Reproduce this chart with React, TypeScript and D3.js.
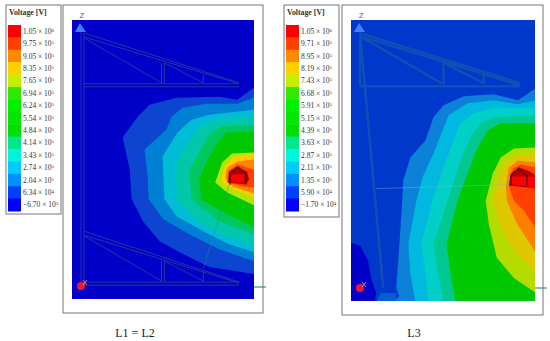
import React from 'react';
import * as d3 from 'd3';

type Pt = [number, number];

// legend values, top to bottom
const LEGEND_COLORS = ['#ff0000', '#ff4000', '#ff8a00', '#ffd000', '#c4f000', '#30e800', '#00f000', '#00e800', '#00e000', '#00e88c', '#00f5dc', '#00ccff', '#0090ff', '#0040ff', '#0000ff'];
const LEFT_MANTISSA = ['1.05', '9.75', '9.05', '8.35', '7.65', '6.94', '6.24', '5.54', '4.84', '4.14', '3.43', '2.74', '2.04', '6.34', '−6.70'];
const LEFT_EXP = ['6', '5', '5', '5', '5', '5', '5', '5', '5', '5', '5', '5', '5', '4', '3'];
const RIGHT_MANTISSA = ['1.05', '9.71', '8.95', '8.19', '7.43', '6.68', '5.91', '5.15', '4.39', '3.63', '2.87', '2.11', '1.35', '5.90', '−1.70'];
const RIGHT_EXP = ['6', '5', '5', '5', '5', '5', '5', '5', '5', '5', '5', '5', '5', '4', '4'];

// contour regions, outermost first (panel units: width 183, height 280)
const LEFT_BANDS: [string, Pt[]][] = [
  ['#0a45d0', [[183, 68], [166, 80], [148, 77], [105, 78], [78, 85], [66, 97], [51, 118], [58, 150], [60, 180], [72, 203], [88, 222], [112, 235], [138, 248], [183, 255]]],
  ['#0080d4', [[183, 78], [166, 84], [135, 84], [111, 88], [100, 97], [95, 110], [73, 130], [76, 157], [77, 180], [92, 200], [118, 215], [148, 230], [183, 242]]],
  ['#00bcd4', [[183, 90], [138, 95], [120, 100], [106, 113], [91, 137], [93, 180], [105, 197], [132, 212], [158, 225], [183, 233]]],
  ['#00c8a8', [[183, 97], [145, 100], [128, 108], [115, 127], [105, 143], [105, 180], [128, 203], [155, 217], [183, 225]]],
  ['#00c860', [[183, 105], [151, 107], [138, 115], [128, 133], [118, 150], [120, 180], [148, 202], [183, 215]]],
  ['#00c800', [[183, 112], [155, 113], [145, 125], [135, 143], [128, 160], [130, 180], [152, 193], [183, 208]]],
  ['#b4e400', [[183, 133], [161, 134], [151, 143], [144, 163], [156, 173], [183, 186]]],
  ['#ffcc00', [[183, 134], [163, 137], [153, 148], [150, 162], [163, 170], [183, 178]]],
  ['#ff8400', [[183, 140], [166, 142], [156, 148], [154, 158], [161, 167], [183, 174]]],
  ['#ff4000', [[183, 150], [166, 145], [157, 152], [156, 163], [173, 167], [183, 168]]],
  ['#b80000', [[166, 147], [158, 152], [157, 163], [175, 165], [178, 160], [176, 152]]],
  ['#ff0000', [[160, 155], [173, 155], [173, 163], [160, 163]]],
];

const RIGHT_BANDS: [string, Pt[]][] = [
  ['#0000c8', [[0, 222], [9, 225], [17, 240], [20, 257], [25, 272], [24, 281], [0, 281]]],
  ['#0060d0', [[25, 281], [30, 272], [44, 272], [47, 281]]],
  ['#0a80d8', [[184, 68], [166, 80], [142, 74], [112, 76], [92, 85], [82, 97], [74, 120], [59, 137], [52, 160], [51, 180], [47, 240], [45, 267], [48, 275], [43, 281], [184, 281]]],
  ['#00b8e0', [[184, 80], [166, 84], [142, 80], [116, 83], [97, 95], [91, 110], [82, 133], [71, 157], [65, 180], [57, 223], [59, 253], [64, 281], [184, 281]]],
  ['#00d0c8', [[184, 88], [142, 88], [122, 93], [109, 103], [102, 120], [92, 147], [81, 180], [70, 223], [74, 253], [77, 281], [184, 281]]],
  ['#00c890', [[184, 95], [142, 97], [129, 103], [119, 117], [109, 140], [96, 180], [82, 223], [87, 253], [92, 281], [184, 281]]],
  ['#00c800', [[184, 103], [149, 103], [136, 110], [126, 127], [116, 153], [106, 180], [95, 223], [99, 253], [104, 281], [184, 281]]],
  ['#b4dc00', [[184, 127], [162, 128], [149, 137], [141, 153], [134, 180], [137, 203], [145, 237], [162, 257], [184, 272]]],
  ['#e0c800', [[184, 133], [166, 135], [154, 142], [146, 160], [141, 180], [152, 213], [165, 233], [184, 253]]],
  ['#ff8000', [[184, 142], [166, 140], [157, 147], [154, 167], [155, 180], [165, 203], [184, 232]]],
  ['#ff4000', [[184, 147], [169, 144], [161, 148], [157, 165], [162, 180], [172, 190], [184, 208]]],
  ['#b80000', [[167, 147], [159, 153], [157, 165], [176, 167], [184, 168], [184, 155], [176, 150]]],
  ['#ff0000', [[160, 156], [184, 156], [183, 168], [172, 165], [160, 164]]],
];

// structure lines in panel units
const LEFT_LINES: Pt[][] = [
  [[9, 12], [9, 266]], [[12, 13], [12, 266]],
  [[12, 13], [168, 63]], [[12, 17], [168, 64]], [[12, 64], [168, 64]], [[12, 67], [168, 67]],
  [[12, 18], [90, 63]], [[93, 43], [132, 63]], [[90, 43], [90, 64]], [[93, 43], [93, 64]], [[132, 55], [132, 64]],
  [[12, 212], [168, 263]], [[12, 216], [168, 264]], [[12, 263], [168, 263]], [[12, 266], [168, 266]],
  [[13, 217], [90, 262]], [[93, 242], [132, 262]], [[90, 242], [90, 263]], [[93, 242], [93, 263]], [[132, 252], [132, 263]],
];
const LEFT_WIRE: Pt[] = [[158, 165], [132, 250]];
const RIGHT_LINES: Pt[][] = [
  [[9, 13], [32, 267]], [[9, 13], [9, 66]],
  [[9, 13], [168, 63]], [[9, 16], [168, 65]], [[9, 66], [168, 66]],
  [[12, 18], [90, 63]], [[93, 43], [132, 63]], [[92, 43], [92, 64]], [[132, 55], [132, 64]],
];
const RIGHT_WIRE: Pt[] = [[25, 168], [157, 164]];
const HOT_BOX: Pt[] = [[159, 165], [159, 155], [167, 148], [175, 155], [175, 165]];

const Panel = ({ id, x0, y0, w, h, frame, bg, bands, lines, lineColor, lineWidth, wire, wireColor, tickY }: any) => {
  const x = d3.scaleLinear().domain([0, 183]).range([x0, x0 + w]);
  const y = d3.scaleLinear().domain([0, 280]).range([y0, y0 + h]);
  const path = d3.line<Pt>().x(d => x(d[0])).y(d => y(d[1]));
  return (
    <g>
      <rect x={frame[0]} y={frame[1]} width={frame[2]} height={frame[3]} fill="#fff" stroke="#777" strokeWidth={1} />
      <clipPath id={id}><rect x={x0} y={y0} width={w} height={h} /></clipPath>
      <g clipPath={`url(#${id})`}>
        <rect x={x0} y={y0} width={w} height={h} fill={bg} />
        <g filter="url(#soft)">
          {bands.map((b: [string, Pt[]], i: number) => <path key={i} d={path(b[1]) + 'Z'} fill={b[0]} />)}
        </g>
        {lines.map((l: Pt[], i: number) => <path key={i} d={path(l)!} fill="none" stroke={lineColor} strokeWidth={lineWidth} />)}
        <path d={path(wire)!} fill="none" stroke={wireColor} strokeWidth={0.6} opacity={0.75} />
        <path d={path(HOT_BOX)!} fill="none" stroke="#701018" strokeWidth={1.6} />
      </g>
      <path d={`M${x(3)},${y(12)}L${x(8)},${y(3)}L${x(14)},${y(12)}Z`} fill="#3f7fff" />
      <text x={x(10)} y={y(-2)} fontFamily="DejaVu Sans" fontSize={7} fill="#4a6aa8" textAnchor="middle">Z</text>
      <circle cx={x(9)} cy={y(267)} r={4} fill="#f01830" />
      <path d={`M${x(11)},${y(261)}L${x(15)},${y(266)}M${x(15)},${y(261)}L${x(11)},${y(266)}`} stroke="#f0a0a0" strokeWidth={0.8} />
      <line x1={x0 + w} x2={x0 + w + 12} y1={tickY} y2={tickY} stroke="#1d8040" strokeWidth={1} />
    </g>
  );
};

const Legend = ({ x0, frameH, mant, exp }: any) => {
  const y = d3.scaleBand<string>().domain(mant).range([25, 211]);
  return (
    <g fontFamily="Liberation Serif">
      <rect x={x0} y={5} width={55} height={frameH} fill="#fff" stroke="#777" strokeWidth={1} />
      <text x={x0 + 3} y={15} fontSize={7.8} fontWeight="bold" fill="#333">Voltage [V]</text>
      {mant.map((m: string, i: number) => (
        <g key={m}>
          <rect x={x0 + 2} y={y(m)} width={13} height={y.bandwidth() + 0.5} fill={LEGEND_COLORS[i]} />
          <text x={x0 + 17} y={y(m)! + y.bandwidth() / 2 + 2.5} fontSize={7.5} fill="#333">
            {m} × 10<tspan fontSize={5} dy={-2}>{exp[i]}</tspan>
          </text>
        </g>
      ))}
    </g>
  );
};

const App = () => (
  <svg width={550} height={341} style={{ position: 'absolute', left: 0, top: 0, background: '#fff' }}>
    <defs>
      <filter id="soft" x="-5%" y="-5%" width="110%" height="110%"><feGaussianBlur stdDeviation={0.6} /></filter>
    </defs>
    <Legend x0={6} frameH={209} mant={LEFT_MANTISSA} exp={LEFT_EXP} />
    <Legend x0={284} frameH={212} mant={RIGHT_MANTISSA} exp={RIGHT_EXP} />
    <Panel id="p1" x0={72} y0={20} w={182} h={279} frame={[63, 5, 200, 308]} bg="#0000c8" bands={LEFT_BANDS}
      lines={LEFT_LINES} lineColor="#2a3a9c" lineWidth={0.9} wire={LEFT_WIRE} wireColor="#2a8a90" tickY={287} />
    <Panel id="p2" x0={351} y0={20} w={184} h={281} frame={[342, 5, 201, 310]} bg="#0038cc" bands={RIGHT_BANDS}
      lines={RIGHT_LINES} lineColor="#1050b4" lineWidth={2.4} wire={RIGHT_WIRE} wireColor="#50c8c8" tickY={288} />
    <g fontFamily="Liberation Serif" fontSize={12} fill="#222" textAnchor="middle">
      <text x={135} y={337}>L1 = L2</text>
      <text x={414} y={337}>L3</text>
    </g>
  </svg>
);

export default App;
